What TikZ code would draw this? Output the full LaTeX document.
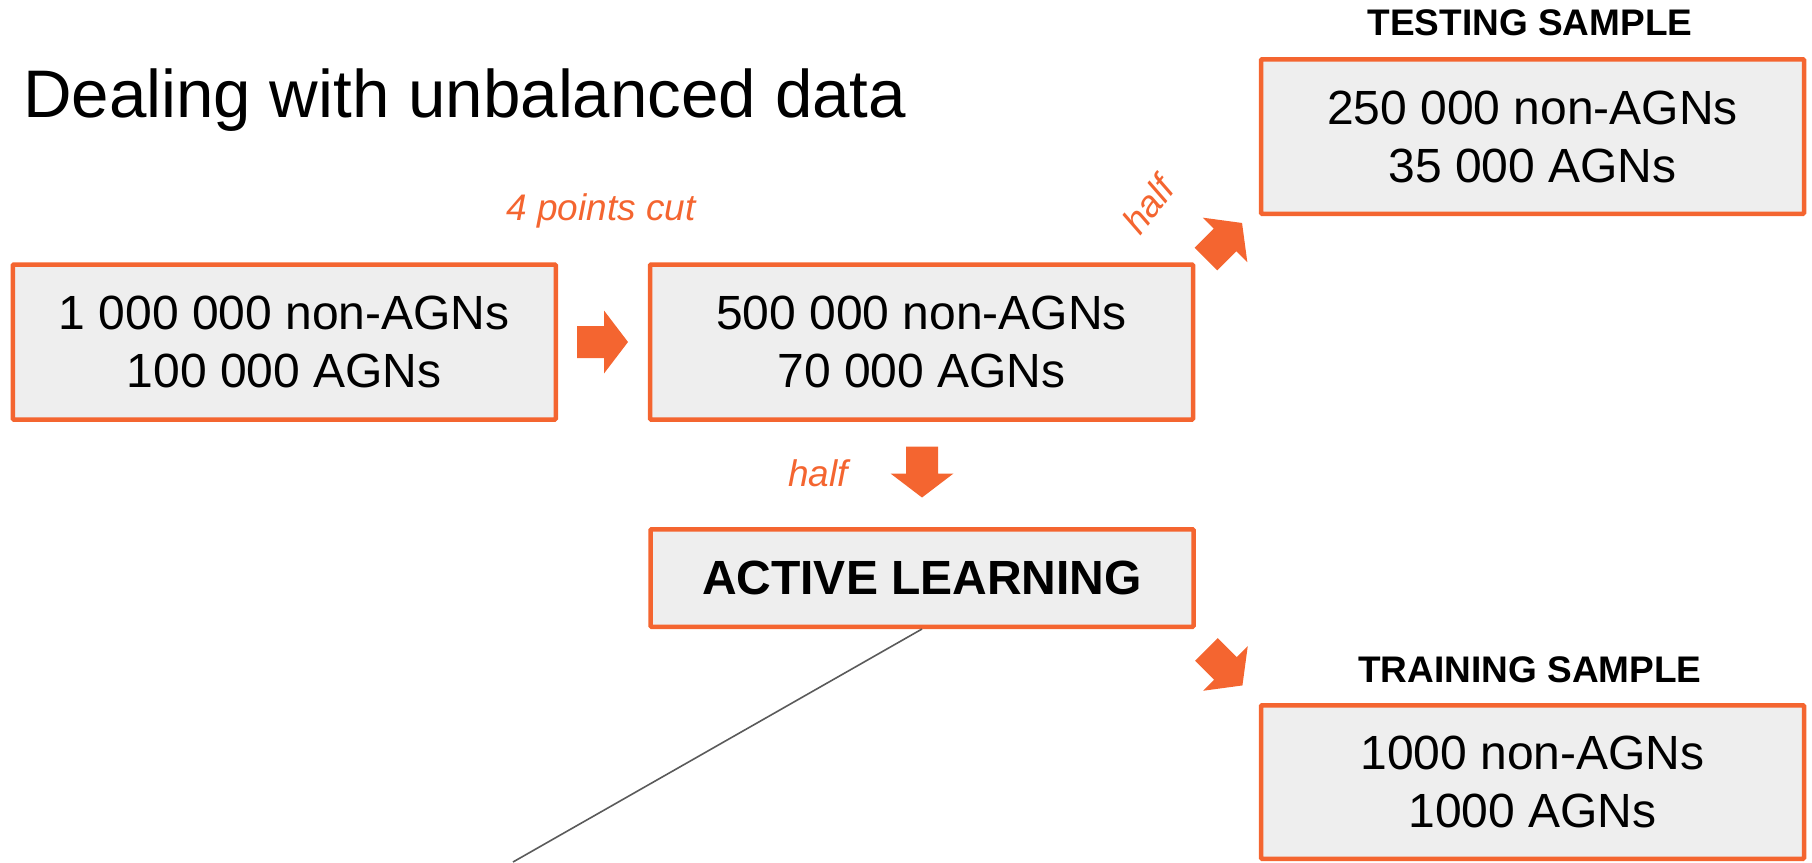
\documentclass[tikz,border=0pt]{standalone}
\usepackage{fontspec}
\setmainfont{Liberation Sans}
\definecolor{org}{RGB}{244,101,48}
\definecolor{boxfill}{RGB}{238,238,238}
\definecolor{linegray}{RGB}{90,90,90}
\tikzset{
  databox/.style={draw=org, fill=boxfill, line width=4.5pt, rounded corners=1pt,
    minimum width=543pt, minimum height=155pt, align=center, inner sep=0pt,
    font=\fontsize{48}{58}\selectfont},
  headlbl/.style={font=\bfseries\fontsize{37}{44}\selectfont, anchor=base, inner sep=0pt},
  orglbl/.style={text=org, font=\itshape\fontsize{37}{44}\selectfont, inner sep=0pt},
  barrow/.pic={\fill[org] (-25.5,-16) -- (1.5,-16) -- (1.5,-31.5) -- (25.5,0) -- (1.5,31.5) -- (1.5,16) -- (-25.5,16) -- cycle;}
}
\begin{document}
\begin{tikzpicture}[x=1pt,y=-1pt]
\useasboundingbox (0,0) rectangle (1812,862);
\node[anchor=base west, inner sep=0pt, font=\fontsize{67.3}{80}\selectfont] (title) at (23,117) {Dealing with unbalanced data};
\node[databox] (all) at (284.25,342) {1 000 000 non-AGNs\\100 000 AGNs};
\node[databox] (cut) at (921.5,342) {500 000 non-AGNs\\70 000 AGNs};
\node[databox, minimum height=97.5pt, font=\bfseries\fontsize{48}{58}\selectfont] (al) at (922,578) {ACTIVE LEARNING};
\node[databox, minimum height=154.5pt] (test) at (1532.5,136.5) {250 000 non-AGNs\\35 000 AGNs};
\node[databox, minimum height=153.5pt] (train) at (1532.5,782) {1000 non-AGNs\\1000 AGNs};
\node[headlbl] (testlbl) at (1530,35) {TESTING SAMPLE};
\node[headlbl] (trainlbl) at (1530,682) {TRAINING SAMPLE};
\node[orglbl, anchor=base] (cutlbl) at (601,220) {4 points cut};
\node[orglbl, anchor=base] (halfdown) at (818,486) {half};
\node[orglbl, rotate=52] (halfup) at (1148,205) {half};
\pic at (602.5,342) {barrow};
\pic[rotate=-90] at (922,472) {barrow};
\pic[rotate=45] at (1224,241) {barrow};
\pic[rotate=-45] at (1224.4,667.4) {barrow};
\coordinate (lineend) at (513,862);
\draw[linegray, line width=1.6pt] (al.south) -- (lineend);
\end{tikzpicture}
\end{document}
